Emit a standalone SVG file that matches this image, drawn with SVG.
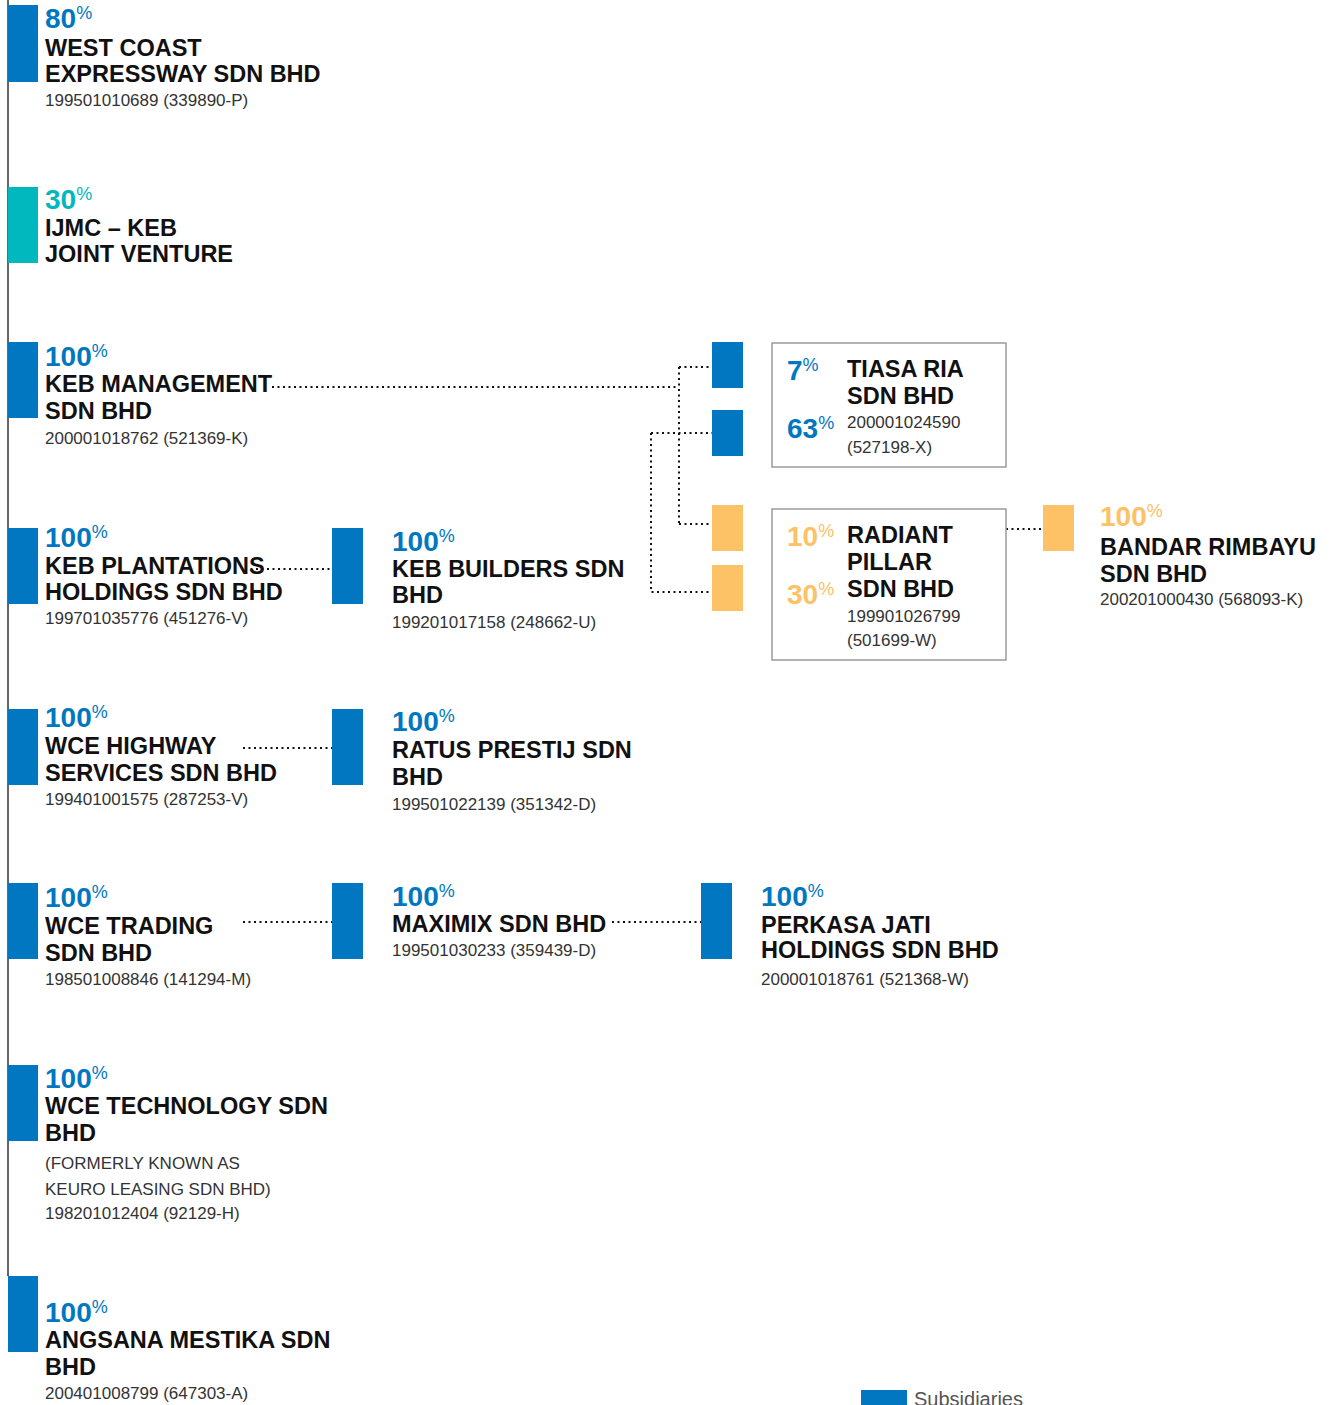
<svg xmlns="http://www.w3.org/2000/svg" width="1330" height="1405" viewBox="0 0 1330 1405">
<style>
text{font-family:"Liberation Sans",Arial,sans-serif}
.bb{fill:#0077c0}.bt{fill:#00b8bd}.bo{fill:#fdc166}
.pct{font-weight:bold;font-size:28px}
.pb{fill:#0077c0}.pt{fill:#00b8bd}.po{fill:#fdc166}
.sup{font-size:18px;font-weight:normal}
.name{font-weight:bold;font-size:23.5px;fill:#111}
.reg{font-size:17px;fill:#333}
.conn{stroke:#111;stroke-width:2;stroke-dasharray:2 3.5;fill:none}
.box{fill:#fff;stroke:#9a9a9a;stroke-width:1.5}
.trunk{stroke:#333;stroke-width:1.5;fill:none}
</style>
<rect width="1330" height="1405" fill="#fff"/>
<g id="connectors">
<path class="trunk" d="M8 0V1276"/>
<path class="conn" d="M272 387H679M679 367V524M679 367H712M679 524H712"/>
<path class="conn" d="M651 433H712M651 433V592H712"/>
<path class="conn" d="M245 569H332"/>
<path class="conn" d="M243 748H332"/>
<path class="conn" d="M243 922H332"/>
<path class="conn" d="M612 922H701"/>
<path class="conn" d="M1006 529H1043"/>
</g>
<g id="west-coast">
<rect class="bb" x="8" y="5" width="30" height="77"/>
<text class="pct pb" x="45" y="28">80<tspan class="sup" dy="-9">%</tspan></text>
<text class="name" x="45" y="56">WEST COAST</text>
<text class="name" x="45" y="82">EXPRESSWAY SDN BHD</text>
<text class="reg" x="45" y="106">199501010689 (339890-P)</text>
</g>
<g id="ijmc-keb">
<rect class="bt" x="8" y="187" width="30" height="76"/>
<text class="pct pt" x="45" y="209">30<tspan class="sup" dy="-9">%</tspan></text>
<text class="name" x="45" y="236">IJMC – KEB</text>
<text class="name" x="45" y="262">JOINT VENTURE</text>
</g>
<g id="keb-management">
<rect class="bb" x="8" y="342" width="30" height="76"/>
<text class="pct pb" x="45" y="366">100<tspan class="sup" dy="-9">%</tspan></text>
<text class="name" x="45" y="392">KEB MANAGEMENT</text>
<text class="name" x="45" y="419">SDN BHD</text>
<text class="reg" x="45" y="444">200001018762 (521369-K)</text>
</g>
<g id="keb-plantations">
<rect class="bb" x="8" y="528" width="30" height="76"/>
<text class="pct pb" x="45" y="547">100<tspan class="sup" dy="-9">%</tspan></text>
<text class="name" x="45" y="574">KEB PLANTATIONS</text>
<text class="name" x="45" y="600">HOLDINGS SDN BHD</text>
<text class="reg" x="45" y="624">199701035776 (451276-V)</text>
</g>
<g id="wce-highway">
<rect class="bb" x="8" y="709" width="30" height="76"/>
<text class="pct pb" x="45" y="727">100<tspan class="sup" dy="-9">%</tspan></text>
<text class="name" x="45" y="754">WCE HIGHWAY</text>
<text class="name" x="45" y="781">SERVICES SDN BHD</text>
<text class="reg" x="45" y="805">199401001575 (287253-V)</text>
</g>
<g id="wce-trading">
<rect class="bb" x="8" y="883" width="30" height="76"/>
<text class="pct pb" x="45" y="907">100<tspan class="sup" dy="-9">%</tspan></text>
<text class="name" x="45" y="934">WCE TRADING</text>
<text class="name" x="45" y="961">SDN BHD</text>
<text class="reg" x="45" y="985">198501008846 (141294-M)</text>
</g>
<g id="wce-technology">
<rect class="bb" x="8" y="1065" width="30" height="76"/>
<text class="pct pb" x="45" y="1088">100<tspan class="sup" dy="-9">%</tspan></text>
<text class="name" x="45" y="1114">WCE TECHNOLOGY SDN</text>
<text class="name" x="45" y="1141">BHD</text>
<text class="reg" x="45" y="1169">(FORMERLY KNOWN AS</text>
<text class="reg" x="45" y="1195">KEURO LEASING SDN BHD)</text>
<text class="reg" x="45" y="1219">198201012404 (92129-H)</text>
</g>
<g id="angsana-mestika">
<rect class="bb" x="8" y="1276" width="30" height="76"/>
<text class="pct pb" x="45" y="1322">100<tspan class="sup" dy="-9">%</tspan></text>
<text class="name" x="45" y="1348">ANGSANA MESTIKA SDN</text>
<text class="name" x="45" y="1375">BHD</text>
<text class="reg" x="45" y="1399">200401008799 (647303-A)</text>
</g>
<g id="keb-builders">
<rect class="bb" x="332" y="528" width="31" height="76"/>
<text class="pct pb" x="392" y="551">100<tspan class="sup" dy="-9">%</tspan></text>
<text class="name" x="392" y="577">KEB BUILDERS SDN</text>
<text class="name" x="392" y="603">BHD</text>
<text class="reg" x="392" y="628">199201017158 (248662-U)</text>
</g>
<g id="ratus-prestij">
<rect class="bb" x="332" y="709" width="31" height="76"/>
<text class="pct pb" x="392" y="731">100<tspan class="sup" dy="-9">%</tspan></text>
<text class="name" x="392" y="758">RATUS PRESTIJ SDN</text>
<text class="name" x="392" y="785">BHD</text>
<text class="reg" x="392" y="810">199501022139 (351342-D)</text>
</g>
<g id="maximix">
<rect class="bb" x="332" y="883" width="31" height="76"/>
<text class="pct pb" x="392" y="906">100<tspan class="sup" dy="-9">%</tspan></text>
<text class="name" x="392" y="932">MAXIMIX SDN BHD</text>
<text class="reg" x="392" y="956">199501030233 (359439-D)</text>
</g>
<g id="perkasa-jati">
<rect class="bb" x="701" y="883" width="31" height="76"/>
<text class="pct pb" x="761" y="906">100<tspan class="sup" dy="-9">%</tspan></text>
<text class="name" x="761" y="933">PERKASA JATI</text>
<text class="name" x="761" y="958">HOLDINGS SDN BHD</text>
<text class="reg" x="761" y="985">200001018761 (521368-W)</text>
</g>
<g id="tiasa-ria">
<rect class="bb" x="712" y="342" width="31" height="46"/>
<rect class="bb" x="712" y="410" width="31" height="46"/>
<rect class="box" x="772" y="343" width="234" height="124"/>
<text class="pct pb" x="787" y="380">7<tspan class="sup" dy="-9">%</tspan></text>
<text class="pct pb" x="787" y="438">63<tspan class="sup" dy="-9">%</tspan></text>
<text class="name" x="847" y="377">TIASA RIA</text>
<text class="name" x="847" y="404">SDN BHD</text>
<text class="reg" x="847" y="428">200001024590</text>
<text class="reg" x="847" y="453">(527198-X)</text>
</g>
<g id="radiant-pillar">
<rect class="bo" x="712" y="505" width="31" height="46"/>
<rect class="bo" x="712" y="565" width="31" height="46"/>
<rect class="box" x="772" y="509" width="234" height="151"/>
<text class="pct po" x="787" y="546">10<tspan class="sup" dy="-9">%</tspan></text>
<text class="pct po" x="787" y="604">30<tspan class="sup" dy="-9">%</tspan></text>
<text class="name" x="847" y="543">RADIANT</text>
<text class="name" x="847" y="570">PILLAR</text>
<text class="name" x="847" y="597">SDN BHD</text>
<text class="reg" x="847" y="622">199901026799</text>
<text class="reg" x="847" y="646">(501699-W)</text>
</g>
<g id="bandar-rimbayu">
<rect class="bo" x="1043" y="505" width="31" height="46"/>
<text class="pct po" x="1100" y="526">100<tspan class="sup" dy="-9">%</tspan></text>
<text class="name" x="1100" y="555">BANDAR RIMBAYU</text>
<text class="name" x="1100" y="582">SDN BHD</text>
<text class="reg" x="1100" y="605">200201000430 (568093-K)</text>
</g>
<g id="legend">
<rect class="bb" x="861" y="1390" width="46" height="20"/>
<text x="914" y="1406" font-size="20" fill="#555">Subsidiaries</text>
</g>
</svg>
